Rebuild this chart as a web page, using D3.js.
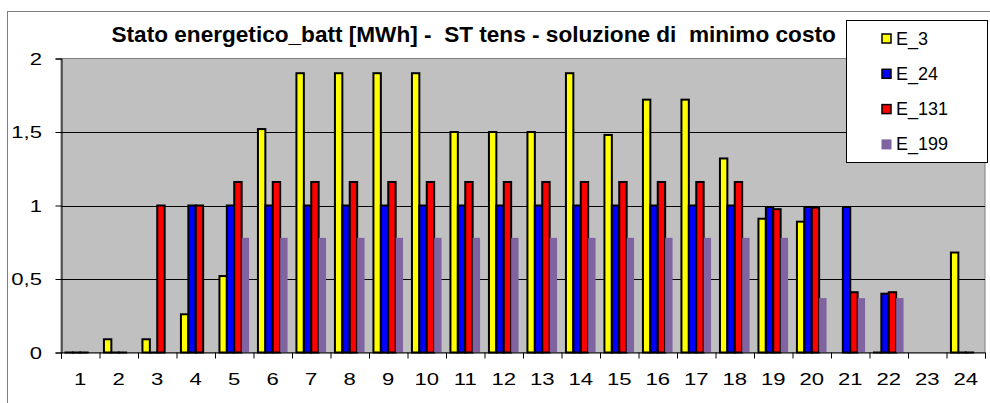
<!DOCTYPE html>
<html>
<head>
<meta charset="utf-8">
<script src="https://cdn.jsdelivr.net/npm/d3@7"></script>
<style>
  body { margin: 0; background: #fff; }
  svg { display: block; }
</style>
</head>
<body>
<svg width="990" height="403"></svg>
<script>
// Dati
const ore = d3.range(1, 25).map(String);
const serie = ["E_3", "E_24", "E_131", "E_199"];
const E_3 = [0, 0.09, 0.09, 0.26, 0.52, 1.52, 1.9, 1.9, 1.9, 1.9, 1.5, 1.5, 1.5, 1.9, 1.48, 1.72, 1.72, 1.32, 0.91, 0.89, null, 0, null, 0.68];
const E_24 = [0, 0, 0, 1, 1, 1, 1, 1, 1, 1, 1, 1, 1, 1, 1, 1, 1, 1, 0.99, 0.99, 0.99, 0.4, null, 0];
const E_131 = [0, 0, 1, 1, 1.16, 1.16, 1.16, 1.16, 1.16, 1.16, 1.16, 1.16, 1.16, 1.16, 1.16, 1.16, 1.16, 1.16, 0.975, 0.985, 0.41, 0.41, null, 0];
const E_199 = [null, null, null, null, 0.78, 0.78, 0.78, 0.78, 0.78, 0.78, 0.78, 0.78, 0.78, 0.78, 0.78, 0.78, 0.78, 0.78, 0.78, 0.37, 0.37, 0.37, null, null];
const yTicks = [0, 0.5, 1, 1.5, 2];

const valori = { E_3, E_24, E_131, E_199 };
const colori = { E_3: "#ffff00", E_24: "#0000ff", E_131: "#ff0000", E_199: "#8064a2" };
const bordo = { E_3: true, E_24: true, E_131: true, E_199: false };

const titolo = "Stato energetico_batt [MWh] -  ST tens - soluzione di  minimo costo";
const font = "'Liberation Sans', Arial, sans-serif";

// Area del grafico
const pLeft = 61, pRight = 985, pTop = 58.5, pBottom = 352.5;

const svg = d3.select("svg");

// Bordo esterno del grafico
svg.append("rect")
    .attr("x", 7.5).attr("y", 11.5)
    .attr("width", 1100).attr("height", 600)
    .attr("fill", "#fff")
    .attr("stroke", "#808080");

// Scale
const x = d3.scaleBand().domain(ore).range([pLeft, pRight]).padding(0);
const xs = d3.scaleBand().domain(serie).range([0, x.bandwidth()]).paddingInner(0).paddingOuter(0.6);
const y = d3.scaleLinear().domain([0, 2]).range([pBottom, pTop]);

// Sfondo area
svg.append("rect")
    .attr("x", pLeft).attr("y", pTop)
    .attr("width", pRight - pLeft).attr("height", pBottom - pTop)
    .attr("fill", "#c0c0c0")
    .attr("stroke", "#808080");

// Griglia
svg.append("g")
    .selectAll("line")
    .data(yTicks.filter(d => d > 0 && d < 2))
    .enter()
    .append("line")
    .attr("x1", pLeft).attr("x2", pRight)
    .attr("y1", d => Math.round(y(d)) + 0.5)
    .attr("y2", d => Math.round(y(d)) + 0.5)
    .attr("stroke", "#000");

// Barre
serie.forEach(s => {
    svg.append("g")
        .selectAll("rect")
        .data(valori[s].map((v, i) => ({ ora: ore[i], v })).filter(d => d.v !== null))
        .enter()
        .append("rect")
        .attr("x", d => x(d.ora) + xs(s))
        .attr("y", d => y(d.v))
        .attr("width", xs.bandwidth())
        .attr("height", d => Math.max(y(0) - y(d.v), 0.01))
        .attr("fill", colori[s])
        .attr("stroke", bordo[s] ? "#000" : "none")
        .attr("stroke-width", 2);
});

// Asse Y
const yAxis = svg.append("g")
    .attr("transform", `translate(${pLeft + 0.5}, 0)`)
    .call(d3.axisLeft(y).tickValues(yTicks).tickSize(6).tickPadding(0)
        .tickFormat(d => String(d).replace(".", ",")));
yAxis.select(".domain").attr("stroke", "#000");
yAxis.selectAll(".tick line").attr("stroke", "#000");
yAxis.selectAll(".tick text")
    .attr("x", 0)
    .attr("dy", "0.35em")
    .attr("transform", "translate(-19.5, 0) scale(1.3, 1)")
    .style("font-family", font)
    .style("font-size", "17px")
    .attr("fill", "#000");

// Asse X: tacche sui bordi delle categorie
const xb = d3.scaleLinear().domain([0, 24]).range([pLeft, pRight]);
const xTickAxis = svg.append("g")
    .attr("transform", `translate(0, ${pBottom})`)
    .call(d3.axisBottom(xb).tickValues(d3.range(25)).tickSize(6).tickFormat(""));
xTickAxis.selectAll(".tick line").attr("stroke", "#000");
xTickAxis.select(".domain").attr("stroke", "#000");

// Asse X: etichette
const xAxis = svg.append("g")
    .attr("transform", `translate(0, ${pBottom})`)
    .call(d3.axisBottom(x).tickSize(0));
xAxis.select(".domain").remove();
xAxis.selectAll(".tick text")
    .attr("y", 0)
    .attr("dy", 0)
    .attr("transform", "translate(0, 32.5) scale(1.3, 1)")
    .style("font-family", font)
    .style("font-size", "17px")
    .attr("fill", "#000");

// Titolo
svg.append("text")
    .attr("x", 111.5)
    .attr("y", 41.5)
    .style("white-space", "pre")
    .style("font-family", font)
    .style("font-weight", "bold")
    .style("font-size", "22.6px")
    .text(titolo);

// Legenda
const leg = svg.append("g").attr("transform", "translate(846.5, 20.5)");
leg.append("rect")
    .attr("width", 141).attr("height", 142)
    .attr("fill", "#fff")
    .attr("stroke", "#000");
serie.forEach((s, i) => {
    const cy = 18 + i * 35.3;
    leg.append("rect")
        .attr("x", bordo[s] ? 35.5 : 35)
        .attr("y", cy - (bordo[s] ? 4.5 : 5))
        .attr("width", bordo[s] ? 9 : 10)
        .attr("height", bordo[s] ? 9 : 10)
        .attr("fill", colori[s])
        .attr("stroke", bordo[s] ? "#000" : "none")
        .attr("stroke-width", 1.5);
    leg.append("text")
        .attr("x", 49.5)
        .attr("y", cy + 6)
        .style("font-family", font)
        .style("font-size", "18px")
        .text(s);
});
</script>
</body>
</html>
